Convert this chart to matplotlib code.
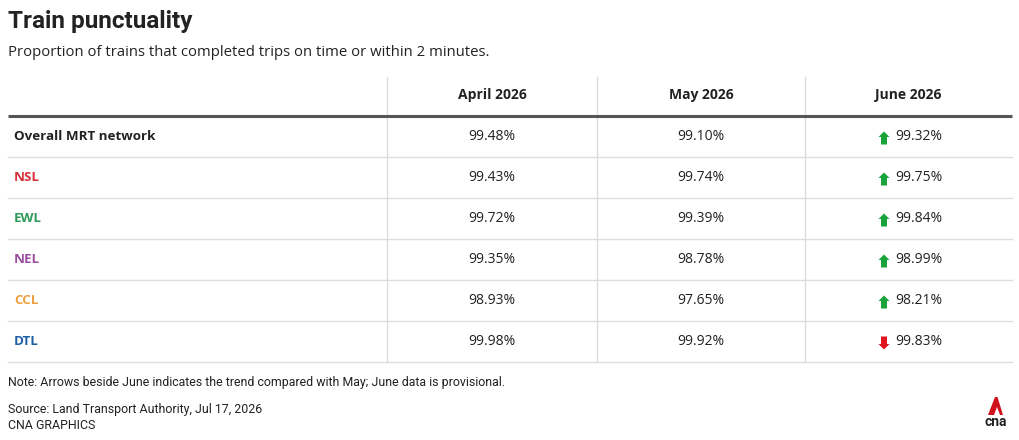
import matplotlib
matplotlib.use("Agg")
import matplotlib.pyplot as plt
from matplotlib.patches import Polygon

# ── data ──────────────────────────────────────────────────────────────────────
TITLE    = "Train punctuality"
SUBTITLE = "Proportion of trains that completed trips on time or within 2 minutes."
MONTHS   = ["April 2026", "May 2026", "June 2026"]
LINES    = ["Overall MRT network", "NSL", "EWL", "NEL", "CCL", "DTL"]
APRIL    = [99.48, 99.43, 99.72, 99.35, 98.93, 99.98]
MAY      = [99.10, 99.74, 99.39, 98.78, 97.65, 99.92]
JUNE     = [99.32, 99.75, 99.84, 98.99, 98.21, 99.83]
NOTE     = "Note: Arrows beside June indicates the trend compared with May; June data is provisional."
SOURCE   = "Source: Land Transport Authority, Jul 17, 2026"
CREDIT   = "CNA GRAPHICS"

LINE_COLORS = {
    "Overall MRT network": "#222222",
    "NSL": "#d6313a",
    "EWL": "#2e9a5a",
    "NEL": "#9b4fa0",
    "CCL": "#f0a040",
    "DTL": "#1f5fa6",
}
UP_COL, DOWN_COL = "#1aa33a", "#e0141e"
TXT   = "#222222"
GRID  = "#dddddd"

NARROW = ["Roboto", "DejaVu Sans"]
BOLD   = ["Open Sans", "DejaVu Sans"]
BODY   = ["Open Sans", "DejaVu Sans"]

# ── layout (pixels) ───────────────────────────────────────────────────────────
W, H      = 1020, 440
LEFT, RIGHT = 8, 1012
COL_EDGES = [387, 597, 805, RIGHT]
HEAD_TOP, HEAD_BOT = 77, 116
ROW_H     = 41


def arrow(ax, cx, cy, up, color):
    hw, sw, hh, tot = 5.5, 3.0, 5.5, 13
    s = -1 if up else 1          # y axis points down
    tip = cy + s * tot / 2
    base = cy - s * tot / 2
    neck = tip - s * hh
    pts = [(cx, tip), (cx + hw, neck), (cx + sw, neck), (cx + sw, base),
           (cx - sw, base), (cx - sw, neck), (cx - hw, neck)]
    ax.add_patch(Polygon(pts, closed=True, color=color, lw=0))


fig = plt.figure(figsize=(W / 100, H / 100), dpi=100)
ax = fig.add_axes([0, 0, 1, 1])
ax.set_xlim(0, W); ax.set_ylim(H, 0); ax.axis("off")

ax.text(8, 28, TITLE, family=NARROW, fontsize=17.5, fontweight="bold", color=TXT, va="baseline")
ax.text(8, 56, SUBTITLE, family=BODY, fontsize=10.7, color=TXT, va="baseline")

# header
centers = [(COL_EDGES[i] + COL_EDGES[i + 1]) / 2 for i in range(3)]
for cx, m in zip(centers, MONTHS):
    ax.text(cx, (HEAD_TOP + HEAD_BOT) / 2 - 1, m, family=BOLD, fontsize=10, fontweight="bold",
            color=TXT, ha="center", va="center")

n = len(LINES)
bottom = HEAD_BOT + n * ROW_H
for x in COL_EDGES[:-1]:
    ax.plot([x, x], [HEAD_TOP, bottom], color=GRID, lw=1)
ax.plot([LEFT, RIGHT], [HEAD_BOT, HEAD_BOT], color="#555555", lw=2.2, solid_capstyle="butt")

for i, name in enumerate(LINES):
    yc = HEAD_BOT + ROW_H * (i + 0.5)
    yb = HEAD_BOT + ROW_H * (i + 1)
    ax.plot([LEFT, RIGHT], [yb, yb], color=GRID, lw=1)
    ax.text(14, yc, name, family=BOLD, fontsize=9.6, fontweight="bold",
            color=LINE_COLORS[name], ha="left", va="center")
    ax.text(centers[0], yc, f"{APRIL[i]:.2f}%", family=BODY, fontsize=10, color=TXT,
            ha="center", va="center")
    ax.text(centers[1], yc, f"{MAY[i]:.2f}%", family=BODY, fontsize=10, color=TXT,
            ha="center", va="center")
    up = JUNE[i] > MAY[i]
    arrow(ax, centers[2] - 24.5, yc + 1.5, up, UP_COL if up else DOWN_COL)
    ax.text(centers[2] - 13.5, yc, f"{JUNE[i]:.2f}%", family=BODY, fontsize=10, color=TXT,
            ha="left", va="center")

# footer
ax.text(8, 386, NOTE, family=NARROW, fontsize=8.95, color=TXT, va="baseline")
ax.text(8, 413, SOURCE, family=NARROW, fontsize=8.95, color=TXT, va="baseline")
ax.text(8, 429, CREDIT, family=NARROW, fontsize=8.95, color=TXT, va="baseline")

# CNA logo
ax.add_patch(Polygon([(988, 415), (995, 397), (997.5, 397), (1003, 415), (1000, 415),
                      (997, 407), (994, 415)], closed=True, color="#d0111b", lw=0))
ax.text(995.5, 422, "cna", family=NARROW, fontsize=10, fontweight="bold", color=TXT,
        ha="center", va="center")

fig.savefig("out.png", dpi=100)
